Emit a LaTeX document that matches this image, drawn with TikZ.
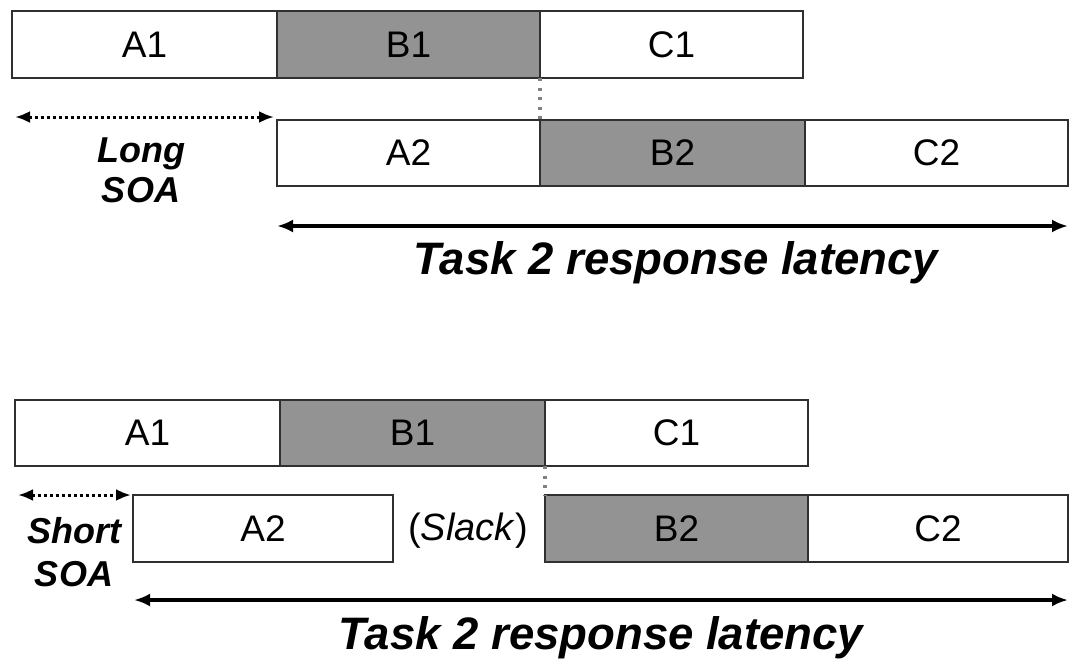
\documentclass[tikz,border=0pt]{standalone}
\usepackage{fontspec}
\setmainfont{Liberation Sans}
\usetikzlibrary{arrows.meta}
\definecolor{phase}{HTML}{939393}
\definecolor{edge}{HTML}{303030}
\begin{document}
\begin{tikzpicture}[x=1pt,y=-1pt,
  stage/.style={draw=edge, line width=2.6pt, inner sep=0pt, outer sep=0pt, font=\fontsize{37}{40}\selectfont},
  white/.style={stage, fill=white},
  grey/.style={stage, fill=phase},
  dotline/.style={line width=3.2pt, dash pattern=on 3pt off 6.5pt, black!50},
  soa/.style={line width=3pt, dash pattern=on 3pt off 3pt, {Latex[length=15pt,width=12pt]}-{Latex[length=15pt,width=12pt]}},
  span/.style={line width=3.2pt, {Latex[length=16pt,width=13pt]}-{Latex[length=16pt,width=13pt]}},
  lbl/.style={font=\fontsize{36}{40}\selectfont\bfseries\itshape, align=center, inner sep=0pt},
  big/.style={font=\fontsize{45.5}{50}\selectfont\bfseries\itshape, inner sep=0pt}]
\useasboundingbox (0,0) rectangle (1071,664);

% Long SOA: Task 1 stages
\node[white, minimum width=265pt, minimum height=67pt] (ta1) at (144.5,44.5) {A1};
\node[grey,  minimum width=263pt, minimum height=67pt] (tb1) at (408.5,44.5) {B1};
\node[white, minimum width=263pt, minimum height=67pt] (tc1) at (671.5,44.5) {C1};
% Long SOA: Task 2 stages
\node[white, minimum width=263pt, minimum height=66pt] (ta2) at (408.5,153) {A2};
\node[grey,  minimum width=265pt, minimum height=66pt] (tb2) at (672.5,153) {B2};
\node[white, minimum width=263pt, minimum height=66pt] (tc2) at (936.5,153) {C2};

\draw[dotline] (tb1.south east) -- (tb2.north west);

\coordinate (tsoa) at (15,117);
\coordinate (tsoaend) at (274,117);
\draw[soa] (tsoa) -- (tsoaend);
\node[lbl] (tlong) at (141,170.5) {Long\\SOA};

\coordinate (tlatL) at (277,226);
\coordinate (tlatR) at (1068,226);
\draw[span] (tlatL) -- (tlatR);
\node[big] (tlat) at (676,263) {Task 2 response latency};

% Short SOA: Task 1 stages
\node[white, minimum width=265pt, minimum height=66pt] (ba1) at (147.5,433) {A1};
\node[grey,  minimum width=265pt, minimum height=66pt] (bb1) at (412.5,433) {B1};
\node[white, minimum width=263pt, minimum height=66pt] (bc1) at (676.5,433) {C1};
% Short SOA: Task 2 stages
\node[white, minimum width=260pt, minimum height=67pt] (ba2) at (263,528.5) {A2};
\node[font=\fontsize{38}{40}\selectfont, inner sep=0pt] (slack) at (468,531) {(\textit{Slack})};
\node[grey,  minimum width=263pt, minimum height=67pt] (bb2) at (676.5,528.5) {B2};
\node[white, minimum width=260pt, minimum height=67pt] (bc2) at (938,528.5) {C2};

\draw[dotline] (bb1.south east) -- (bb2.north west);

\coordinate (bsoa) at (18,495);
\coordinate (bsoaend) at (131,495);
\draw[soa] (bsoa) -- (bsoaend);
\node[lbl, font=\fontsize{36}{43}\selectfont\bfseries\itshape] (bshort) at (74,552.5) {Short\\SOA};

\coordinate (blatL) at (134,600);
\coordinate (blatR) at (1068,600);
\draw[span] (blatL) -- (blatR);
\node[big] (blat) at (601,638) {Task 2 response latency};
\end{tikzpicture}
\end{document}
